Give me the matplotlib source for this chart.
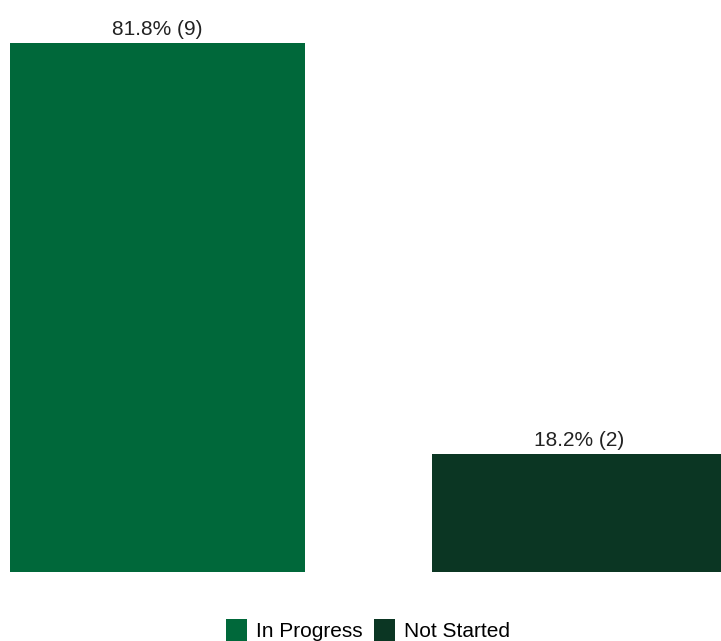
import matplotlib
matplotlib.use('Agg')
import matplotlib.pyplot as plt
from matplotlib.patches import Patch

categories = ['In Progress', 'Not Started']
counts = [9, 2]
percents = [81.8, 18.2]
colors = ['#00683a', '#0b3623']

plt.rcParams['font.family'] = ['Liberation Sans', 'DejaVu Sans']

fig = plt.figure(figsize=(7.21, 6.41), dpi=100)
ax = fig.add_axes([0, 69 / 641, 1, 572 / 641])

xs = list(range(len(categories)))
bars = ax.bar(xs, counts, width=0.7, color=colors)
for bar, pct, n in zip(bars, percents, counts):
    ax.annotate('%.1f%% (%d)' % (pct, n),
                xy=(bar.get_x() + bar.get_width() / 2, bar.get_height()),
                xytext=(0, 3), textcoords='offset points',
                ha='center', va='bottom', fontsize=15, color='#222222')

ax.set_xlim(-0.373, 1.335)
ax.set_ylim(0, 9.73)
ax.axis('off')

# legend sits right at the bottom edge
handles = [Patch(facecolor=c, edgecolor='none') for c in colors]
fig.legend(handles, categories, loc='center', bbox_to_anchor=(368 / 721, 11 / 641),
           ncol=2, frameon=False, fontsize=15, handlelength=1.0, handleheight=1.3,
           handletextpad=0.43, columnspacing=0.55, borderpad=0, borderaxespad=0)

fig.savefig('out.png', dpi=100)
